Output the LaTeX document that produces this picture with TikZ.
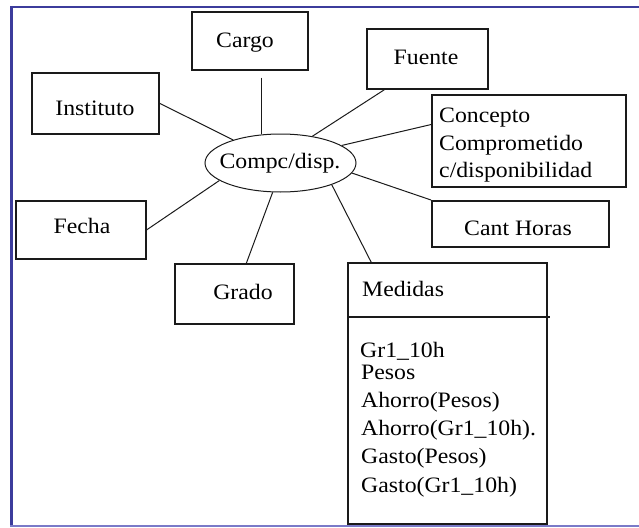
\documentclass[tikz,border=0pt]{standalone}
\usepackage{fontspec}
\setmainfont{Liberation Serif}[FakeStretch=1.08]
\usetikzlibrary{calc,shapes.geometric}

\definecolor{framedark}{HTML}{3C3C9C}
\definecolor{framelight}{HTML}{7A7AC8}
\definecolor{ink}{HTML}{1A1A1A}

\tikzset{
  box/.style={draw=ink, line width=1.7pt, rectangle, inner sep=0pt, anchor=north west},
  lbl/.style={inner sep=0pt, anchor=base, font=\fontsize{22}{27.5}\selectfont},
  lbll/.style={lbl, anchor=base west},
  link/.style={draw=ink, line width=1pt},
}

\begin{document}
\begin{tikzpicture}[x=1pt, y=-1pt]
  \useasboundingbox (0,0) rectangle (639,527);

  % outer frame (open on the right)
  \draw[framedark, line width=2.5pt] (10,7) -- (639,7);
  \draw[framedark, line width=3pt] (11.5,6) -- (11.5,526);
  \draw[framelight, line width=1.5pt] (10,526) -- (639,526);

  % attribute boxes
  \node[box, minimum width=116pt, minimum height=58pt] (cargo)    at (191,11)  {};
  \node[box, minimum width=127pt, minimum height=61pt] (inst)     at (31,72)   {};
  \node[box, minimum width=130pt, minimum height=58pt] (fecha)    at (15,200)  {};
  \node[box, minimum width=119pt, minimum height=60pt] (grado)    at (174,263) {};
  \node[box, minimum width=121pt, minimum height=60pt] (fuente)   at (366,28)  {};
  \node[box, minimum width=194pt, minimum height=92pt] (concepto) at (431,94)  {};
  \node[box, minimum width=177pt, minimum height=46pt] (cant)     at (431,200) {};
  \node[box, minimum width=199pt, minimum height=261pt] (medidas) at (347,262) {};
  \coordinate (divL) at ($(medidas.north west)+(0,55)$);
  \coordinate (divR) at ($(medidas.north east)+(2,55)$);
  \draw[draw=ink, line width=1.7pt] (divL) -- (divR);

  % central fact
  \node[draw=ink, line width=1pt, ellipse, minimum width=151pt, minimum height=58pt, inner sep=0pt] (fact) at (280.5,163) {};

  % labels
  \node[lbl] (cargoT)  at (245,48)  {Cargo};
  \node[lbl] (instT)   at (95,115)  {Instituto};
  \node[lbl] (fechaT)  at (82,233)  {Fecha};
  \node[lbl] (gradoT)  at (243,299) {Grado};
  \node[lbl] (fuenteT) at (426,64)  {Fuente};
  \node[lbl] (cantT)   at (518,235) {Cant Horas};
  \node[lbl] (factT)   at (280,168) {Compc/disp.};
  \node[lbll] (con1) at (439,122) {Concepto};
  \node[lbll] (con2) at (439,150) {Comprometido};
  \node[lbll] (con3) at (439,177) {c/disponibilidad};
  \node[lbll] (medT) at (362,296) {Medidas};
  \node[lbll] (m1) at (360,357) {Gr1\_10h};
  \node[lbll] (m2) at (361,379) {Pesos};
  \node[lbll] (m3) at (361,407) {Ahorro(Pesos)};
  \node[lbll] (m4) at (361,435) {Ahorro(Gr1\_10h).};
  \node[lbll] (m5) at (361,463) {Gasto(Pesos)};
  \node[lbll] (m6) at (361,492) {Gasto(Gr1\_10h)};

  % connectors from the fact to its attributes
  \coordinate (cargoFoot) at ($(cargo.south west)!0.603!(cargo.south east)+(0,7)$);
  \draw[link] (cargoFoot) -- (cargoFoot |- fact.north);
  \draw[link] (inst.east) -- (fact.154);
  \draw[link] (fecha.east) -- (fact.196);
  \draw[link] ($(grado.north west)!0.6!(grado.north east)$) -- (fact.255);
  \draw[link] ($(medidas.north west)!0.12!(medidas.north east)$) -- (fact.337);
  \draw[link] (cant.north west) -- (fact.352);
  \draw[link] ($(concepto.north west)!0.326!(concepto.south west)$) -- (fact.16);
  \draw[link] ($(fuente.south west)!0.15!(fuente.south east)$) -- (fact.40);
\end{tikzpicture}
\end{document}
